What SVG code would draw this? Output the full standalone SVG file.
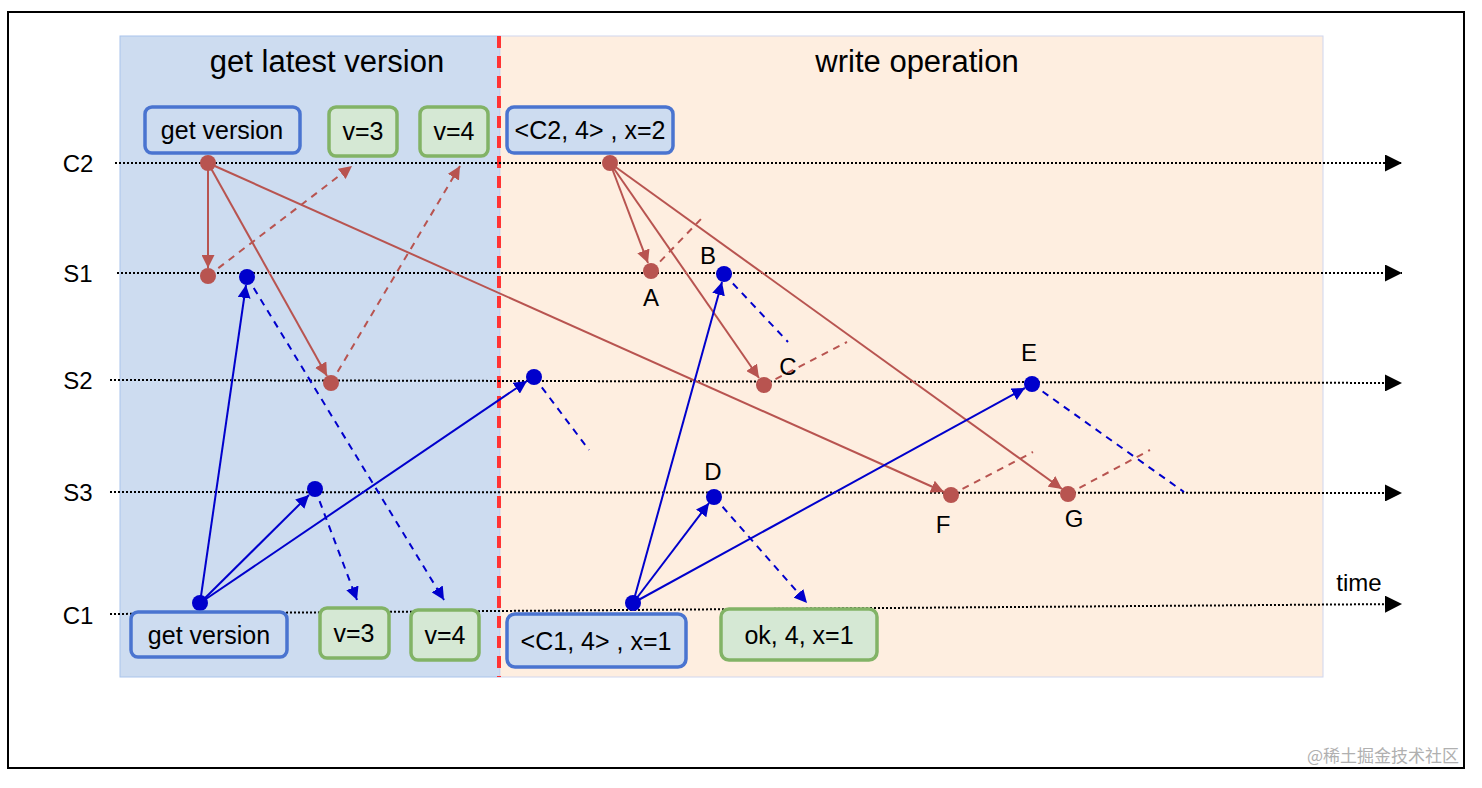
<svg xmlns="http://www.w3.org/2000/svg" width="1482" height="788" viewBox="0 0 1482 788">
<style>
text{font-family:"Liberation Sans",sans-serif;fill:#000}
.t{font-size:31px;text-anchor:middle}
.lab{font-size:24px;text-anchor:middle}
.bt{font-size:25px;text-anchor:middle}
.bx{fill:#cddcf0;stroke:#4a74d0;stroke-width:3.5}
.gx{fill:#d5e8d4;stroke:#82b366;stroke-width:3.5}
.ax{stroke:#000;stroke-width:2;stroke-dasharray:2 2;fill:none}
.r{stroke:#b85450;stroke-width:2;fill:none}
.b{stroke:#0000cc;stroke-width:2;fill:none}
.d{stroke-dasharray:7 6}
.rd{fill:#b85450}
.bd{fill:#0000cc}
</style>
<defs>
<marker id="ar" viewBox="0 0 10 10" refX="10" refY="5" markerWidth="13" markerHeight="13" markerUnits="userSpaceOnUse" orient="auto"><path d="M0,0 L10,5 L0,10 z" fill="#b85450"/></marker>
<marker id="ab" viewBox="0 0 10 10" refX="10" refY="5" markerWidth="13" markerHeight="13" markerUnits="userSpaceOnUse" orient="auto"><path d="M0,0 L10,5 L0,10 z" fill="#0000cc"/></marker>
<marker id="ak" viewBox="0 0 10 10" refX="10" refY="5" markerWidth="17" markerHeight="17" markerUnits="userSpaceOnUse" orient="auto"><path d="M0,0 L10,5 L0,10 z" fill="#000"/></marker>
</defs>
<rect x="0" y="0" width="1482" height="788" fill="#fff"/>
<rect x="8" y="12" width="1456" height="756" fill="#fff" stroke="#000" stroke-width="2"/>
<g id="regions">
<rect x="120" y="36" width="380" height="641" fill="#cddcf0" stroke="#a9c4eb" stroke-width="1"/>
<rect x="500" y="36" width="823" height="641" fill="#feeee0" stroke="#d0d6ee" stroke-width="1"/>
<line x1="499" y1="36" x2="499" y2="677" stroke="#ff3333" stroke-width="4" stroke-dasharray="12 8"/>
<text class="t" x="327" y="72">get latest version</text>
<text class="t" x="917" y="72">write operation</text>
</g>
<g id="axes">
<line class="ax" x1="115" y1="163" x2="1402" y2="163" marker-end="url(#ak)"/>
<line class="ax" x1="117" y1="273" x2="1402" y2="273" marker-end="url(#ak)"/>
<line class="ax" x1="110" y1="380" x2="1402" y2="383" marker-end="url(#ak)"/>
<line class="ax" x1="110" y1="492" x2="1402" y2="493" marker-end="url(#ak)"/>
<line class="ax" x1="110" y1="614" x2="1402" y2="604" marker-end="url(#ak)"/>
<text class="lab" x="78" y="172">C2</text>
<text class="lab" x="78" y="282">S1</text>
<text class="lab" x="78" y="389">S2</text>
<text class="lab" x="78" y="501">S3</text>
<text class="lab" x="78" y="624">C1</text>
<text class="lab" x="1359" y="591">time</text>
</g>
<g id="connectors">
<line class="r" x1="208" y1="163" x2="208" y2="268" marker-end="url(#ar)"/>
<line class="r" x1="208" y1="163" x2="327" y2="376" marker-end="url(#ar)"/>
<line class="r" x1="208" y1="163" x2="944" y2="492" marker-end="url(#ar)"/>
<line class="r" x1="610" y1="163" x2="648" y2="263" marker-end="url(#ar)"/>
<line class="r" x1="610" y1="163" x2="759" y2="378" marker-end="url(#ar)"/>
<line class="r" x1="610" y1="163" x2="1062" y2="489" marker-end="url(#ar)"/>
<line class="r d" x1="208" y1="276" x2="352" y2="166" marker-end="url(#ar)"/>
<line class="r d" x1="331" y1="383" x2="460" y2="166" marker-end="url(#ar)"/>
<line class="r d" x1="651" y1="271" x2="702" y2="218"/>
<line class="r d" x1="764" y1="385" x2="847" y2="342"/>
<line class="r d" x1="951" y1="495" x2="1033" y2="452"/>
<line class="r d" x1="1068" y1="494" x2="1150" y2="450"/>
<line class="b" x1="200" y1="603" x2="246" y2="285" marker-end="url(#ab)"/>
<line class="b" x1="200" y1="603" x2="309" y2="495" marker-end="url(#ab)"/>
<line class="b" x1="200" y1="603" x2="527" y2="381" marker-end="url(#ab)"/>
<line class="b" x1="633" y1="603" x2="722" y2="282" marker-end="url(#ab)"/>
<line class="b" x1="633" y1="603" x2="709" y2="503" marker-end="url(#ab)"/>
<line class="b" x1="633" y1="603" x2="1025" y2="388" marker-end="url(#ab)"/>
<line class="b d" x1="247" y1="277" x2="444" y2="600" marker-end="url(#ab)"/>
<line class="b d" x1="315" y1="489" x2="357" y2="600" marker-end="url(#ab)"/>
<line class="b d" x1="534" y1="377" x2="589" y2="450"/>
<line class="b d" x1="724" y1="274" x2="788" y2="342"/>
<line class="b d" x1="714" y1="497" x2="807" y2="603" marker-end="url(#ab)"/>
<line class="b d" x1="1032" y1="384" x2="1184" y2="492"/>
</g>
<g id="points">
<circle class="rd" cx="208" cy="163" r="8"/>
<circle class="rd" cx="208" cy="276" r="8"/>
<circle class="rd" cx="331" cy="383" r="8"/>
<circle class="rd" cx="610" cy="163" r="8"/>
<circle class="rd" cx="651" cy="271" r="8"/>
<circle class="rd" cx="764" cy="385" r="8"/>
<circle class="rd" cx="951" cy="495" r="8"/>
<circle class="rd" cx="1068" cy="494" r="8"/>
<circle class="bd" cx="247" cy="277" r="8"/>
<circle class="bd" cx="315" cy="489" r="8"/>
<circle class="bd" cx="200" cy="603" r="8"/>
<circle class="bd" cx="534" cy="377" r="8"/>
<circle class="bd" cx="724" cy="274" r="8"/>
<circle class="bd" cx="714" cy="497" r="8"/>
<circle class="bd" cx="1032" cy="384" r="8"/>
<circle class="bd" cx="633" cy="603" r="8"/>
<text class="lab" x="651" y="306">A</text>
<text class="lab" x="708" y="264">B</text>
<text class="lab" x="788" y="375">C</text>
<text class="lab" x="713" y="480">D</text>
<text class="lab" x="1029" y="361">E</text>
<text class="lab" x="943" y="533">F</text>
<text class="lab" x="1074" y="527">G</text>
</g>
<g id="node-getversion-top"><rect class="bx" x="145" y="107" width="155" height="46" rx="7"/><text class="bt" x="222" y="139">get version</text></g>
<g id="node-v3-top"><rect class="gx" x="329" y="107" width="68" height="49" rx="7"/><text class="bt" x="363" y="140">v=3</text></g>
<g id="node-v4-top"><rect class="gx" x="420" y="107" width="68" height="49" rx="7"/><text class="bt" x="454" y="140">v=4</text></g>
<g id="node-c2write"><rect class="bx" x="507" y="107" width="166" height="46" rx="7"/><text class="bt" x="590" y="139">&lt;C2, 4&gt; , x=2</text></g>
<g id="node-getversion-bottom"><rect class="bx" x="131" y="612" width="156" height="45" rx="7"/><text class="bt" x="209" y="644">get version</text></g>
<g id="node-v3-bottom"><rect class="gx" x="320" y="608" width="69" height="50" rx="7"/><text class="bt" x="354" y="642">v=3</text></g>
<g id="node-v4-bottom"><rect class="gx" x="411" y="610" width="68" height="50" rx="7"/><text class="bt" x="445" y="644">v=4</text></g>
<g id="node-c1write"><rect class="bx" x="507" y="614" width="179" height="53" rx="8"/><text class="bt" x="596" y="650">&lt;C1, 4&gt; , x=1</text></g>
<g id="node-ok"><rect class="gx" x="721" y="609" width="156" height="51" rx="8"/><text class="bt" x="799" y="644">ok, 4, x=1</text></g>
<text x="1459" y="762" style="font-family:'Noto Sans CJK SC',sans-serif;font-size:17px;fill:#b0b0b0;text-anchor:end">@稀土掘金技术社区</text>
</svg>
